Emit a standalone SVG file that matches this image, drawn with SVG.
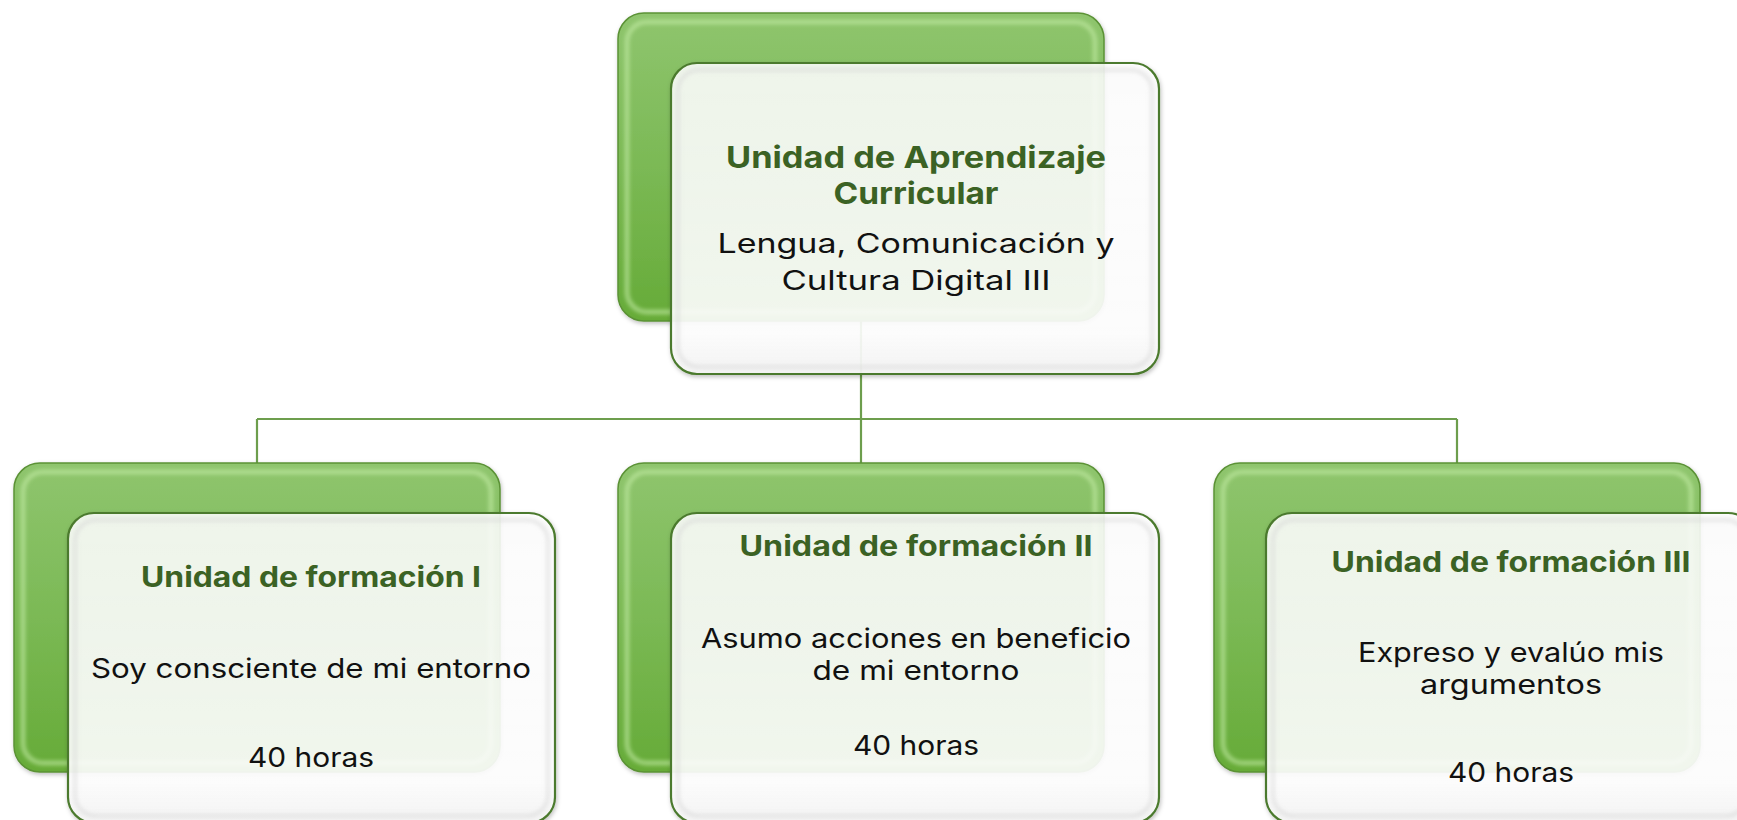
<svg xmlns="http://www.w3.org/2000/svg" width="1737" height="820" viewBox="0 0 1737 820">
<defs>
<linearGradient id="backGrad" x1="0" y1="0" x2="0" y2="1">
<stop offset="0" stop-color="#8fc56e"/>
<stop offset="0.5" stop-color="#7bb955"/>
<stop offset="1" stop-color="#66ab38"/>
</linearGradient>
<linearGradient id="frontGrad" x1="0" y1="0" x2="0" y2="1">
<stop offset="0" stop-color="#ffffff" stop-opacity="0.86"/>
<stop offset="0.85" stop-color="#ffffff" stop-opacity="0.9"/>
<stop offset="1" stop-color="#f4f4f4" stop-opacity="0.95"/>
</linearGradient>
<filter id="soft" x="-5%" y="-5%" width="110%" height="110%">
<feGaussianBlur stdDeviation="2"/>
</filter>
<filter id="shadow" x="-5%" y="-5%" width="115%" height="115%">
<feDropShadow dx="1" dy="2" stdDeviation="2" flood-color="#000" flood-opacity="0.25"/>
</filter>
</defs>
<style>
.back{fill:url(#backGrad);stroke:#5b9236;stroke-width:1.5}
.backHi{fill:none;stroke:#c4eca6;stroke-width:4;opacity:0.75}
.front{fill:url(#frontGrad);stroke:#4b7a2d;stroke-width:2.2}
.frontHi{fill:none;stroke:#d6d6d6;stroke-width:3;opacity:0.7}
.conn{fill:none;stroke:#6d9e4d;stroke-width:2.2}
.title{font-family:Inter,'Open Sans',sans-serif;font-weight:700;fill:#3b6224;text-anchor:middle}
.body{font-family:Inter,'Open Sans',sans-serif;font-weight:400;fill:#111;text-anchor:middle;font-size:27px}
</style>
<g id="connectors">
<path class="conn" d="M861 321 V419 M257 419 H1457 M257 419 V463 M861 419 V463 M1457 419 V463"/>
</g>
<g id="node-top">
<rect class="back" x="618" y="13" width="486" height="308" rx="26" filter="url(#shadow)"/>
<rect class="backHi" x="627" y="22" width="468" height="290" rx="20" filter="url(#soft)"/>
<rect class="front" x="671" y="63" width="488" height="311" rx="26" filter="url(#shadow)"/>
<rect class="frontHi" x="678" y="70" width="474" height="297" rx="21" filter="url(#soft)"/>
<text class="title" font-size="30" x="916" y="168" textLength="380" lengthAdjust="spacingAndGlyphs">Unidad de Aprendizaje</text>
<text class="title" font-size="30" x="916" y="204" textLength="165" lengthAdjust="spacingAndGlyphs">Curricular</text>
<text class="body" font-size="29" x="916" y="253" textLength="397" lengthAdjust="spacingAndGlyphs">Lengua, Comunicación y</text>
<text class="body" font-size="29" x="916" y="290" textLength="269" lengthAdjust="spacingAndGlyphs">Cultura Digital III</text>
</g>
<g id="node-uf1">
<rect class="back" x="14" y="463" width="486" height="309" rx="26" filter="url(#shadow)"/>
<rect class="backHi" x="23" y="472" width="468" height="291" rx="20" filter="url(#soft)"/>
<rect class="front" x="68" y="513" width="487" height="310" rx="26" filter="url(#shadow)"/>
<rect class="frontHi" x="75" y="520" width="473" height="296" rx="21" filter="url(#soft)"/>
<text class="title" font-size="28" x="311" y="587" textLength="340" lengthAdjust="spacingAndGlyphs">Unidad de formación I</text>
<text class="body" x="311" y="678" textLength="440" lengthAdjust="spacingAndGlyphs">Soy consciente de mi entorno</text>
<text class="body" x="311" y="767" textLength="126" lengthAdjust="spacingAndGlyphs">40 horas</text>
</g>
<g id="node-uf2">
<rect class="back" x="618" y="463" width="486" height="309" rx="26" filter="url(#shadow)"/>
<rect class="backHi" x="627" y="472" width="468" height="291" rx="20" filter="url(#soft)"/>
<rect class="front" x="671" y="513" width="488" height="310" rx="26" filter="url(#shadow)"/>
<rect class="frontHi" x="678" y="520" width="474" height="296" rx="21" filter="url(#soft)"/>
<text class="title" font-size="28" x="916" y="556" textLength="353" lengthAdjust="spacingAndGlyphs">Unidad de formación II</text>
<text class="body" x="916" y="648" textLength="430" lengthAdjust="spacingAndGlyphs">Asumo acciones en beneficio</text>
<text class="body" x="916" y="680" textLength="207" lengthAdjust="spacingAndGlyphs">de mi entorno</text>
<text class="body" x="916" y="755" textLength="126" lengthAdjust="spacingAndGlyphs">40 horas</text>
</g>
<g id="node-uf3">
<rect class="back" x="1214" y="463" width="486" height="309" rx="26" filter="url(#shadow)"/>
<rect class="backHi" x="1223" y="472" width="468" height="291" rx="20" filter="url(#soft)"/>
<rect class="front" x="1266" y="513" width="488" height="310" rx="26" filter="url(#shadow)"/>
<rect class="frontHi" x="1273" y="520" width="474" height="296" rx="21" filter="url(#soft)"/>
<text class="title" font-size="28" x="1511" y="572" textLength="359" lengthAdjust="spacingAndGlyphs">Unidad de formación III</text>
<text class="body" x="1511" y="662" textLength="306" lengthAdjust="spacingAndGlyphs">Expreso y evalúo mis</text>
<text class="body" x="1511" y="694" textLength="182" lengthAdjust="spacingAndGlyphs">argumentos</text>
<text class="body" x="1511" y="782" textLength="126" lengthAdjust="spacingAndGlyphs">40 horas</text>
</g>
</svg>
